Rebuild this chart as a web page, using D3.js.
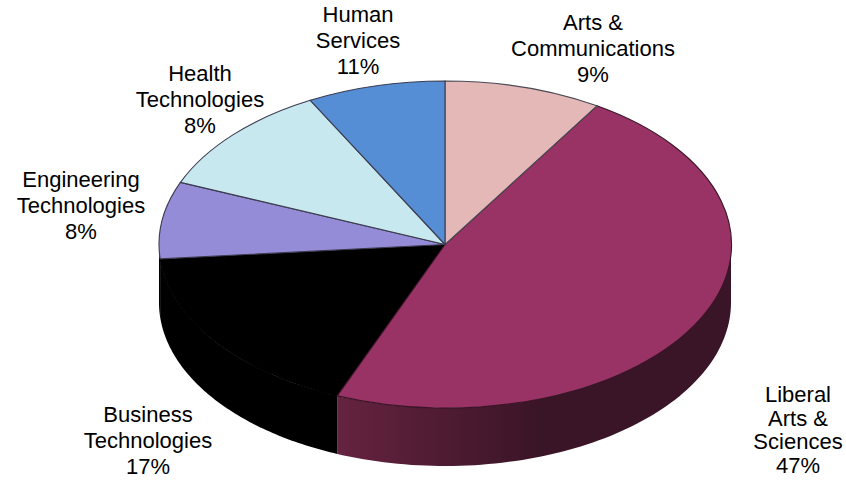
<!DOCTYPE html>
<html><head><meta charset="utf-8">
<script src="https://cdn.jsdelivr.net/npm/d3@7"></script>
<style>html,body{margin:0;background:#fff}svg{display:block}text{font-family:"Liberation Sans",Arial,sans-serif;font-size:22px;fill:#000}</style>
</head><body><div id="c"></div>
<script>
// Drawn slice sizes (clockwise from 12 o'clock)
const sliceNames = ["Arts","Liberal","Business","Engineering","Health","Human"];
const sliceValues = [8.9, 47.25, 17.45, 7.6, 11.0, 7.8];
const sliceColors = ["#e5b8b8","#993366","#000000","#958cd8","#c8e8ef","#558ed5"];
const sliceStrokes = ["#4a4a55","#3a1427","#000000","#3c3c50","#3c3c50","#3c3c50"];
const wallColors = {Liberal:["#652340","#3a1427"],Business:["#000000","#000000"],Engineering:["#000000","#000000"]};
// Printed labels
const labelLines = [["Human","Services","11%"],["Arts &","Communications","9%"],["Health","Technologies","8%"],["Engineering","Technologies","8%"],["Business","Technologies","17%"],["Liberal","Arts &","Sciences","47%"]];
const labelX = [358,593,200,81,148,798];
const labelY = [22,30,81,187,422,402];

const W=846,H=480,cx=445,cy=244.5,rx=286,ry=163.5,depth=58;
const svg=d3.select("#c").append("svg").attr("width",W).attr("height",H);
const defs=svg.append("defs");
const g=defs.append("linearGradient").attr("id","wallLib").attr("gradientUnits","userSpaceOnUse")
  .attr("x1",338).attr("x2",540).attr("y1",0).attr("y2",0);
g.append("stop").attr("offset",0).attr("stop-color",wallColors.Liberal[0]);
g.append("stop").attr("offset",1).attr("stop-color",wallColors.Liberal[1]);

const arcs=d3.pie().sort(null).value(d=>d)(sliceValues);
const px=a=>cx+rx*Math.sin(a), py=a=>cy-ry*Math.cos(a);
const wall=d3.area().x(px).y0(py).y1(a=>py(a)+depth);
function wallPath(a0,a1){
  const s=Math.max(a0,Math.PI/2), e=Math.min(a1,1.5*Math.PI);
  if(e<=s) return null;
  const n=80; return wall(d3.range(n+1).map(i=>s+(e-s)*i/n));
}
arcs.forEach((d,i)=>{
  const p=wallPath(d.startAngle,d.endAngle);
  if(!p) return;
  const name=sliceNames[i];
  svg.append("path").attr("d",p)
    .attr("fill",name==="Liberal"?"url(#wallLib)":wallColors[name][0]);
});
const arc=d3.arc().innerRadius(0).outerRadius(1);
const topFace=svg.append("g").attr("transform",`translate(${cx},${cy}) scale(${rx},${ry})`);
// The black slice goes first so that its black outline sits under its neighbours' edges
const order=[2,1,0,3,4,5];
topFace.selectAll("path").data(order).join("path")
  .attr("d",i=>arc(arcs[i])).attr("fill",i=>sliceColors[i])
  .attr("stroke",i=>sliceStrokes[i]).attr("stroke-width",1.1).attr("vector-effect","non-scaling-stroke");

const lab=svg.append("g");
labelLines.forEach((lines,i)=>{
  const t=lab.append("text").attr("text-anchor","middle");
  lines.forEach((s,j)=>t.append("tspan").attr("x",labelX[i]).attr("y",labelY[i]+j*(lines.length===4?23.5:26)).text(s));
});
</script></body></html>
